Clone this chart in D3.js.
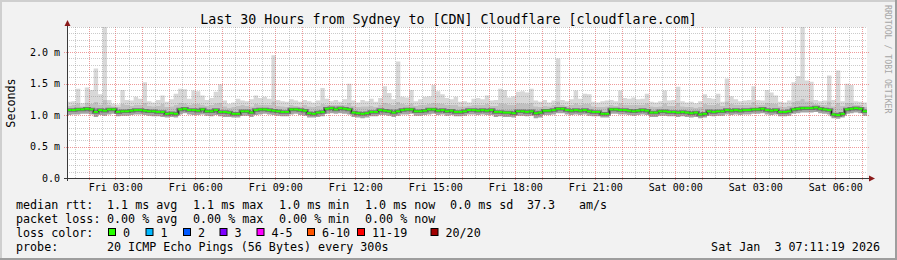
<!DOCTYPE html>
<html>
<head>
<meta charset="utf-8">
<script src="https://cdn.jsdelivr.net/npm/d3@7"></script>
<style>
  html, body { margin: 0; padding: 0; background: #f2f2f2; }
  svg { display: block; }
  text { font-family: "DejaVu Sans Mono", monospace; white-space: pre; }
</style>
</head>
<body>
<svg id="chart" width="897" height="260"></svg>
<script>
var title = "Last 30 Hours from Sydney to [CDN] Cloudflare [cloudflare.com]";
var axisTitle = "Seconds";
var watermark = "RRDTOOL / TOBI OETIKER";
var startTime = Date.UTC(2026, 0, 2, 1, 11, 19);
var endTime = Date.UTC(2026, 0, 3, 7, 11, 19);
var stepMinutes = 10;

// median rtt per 10 minute step (ms)
var medianMs = [
  1.08,1.08,1.09,1.09,1.10,1.09,1.05,1.08,1.07,1.09,
  1.09,1.05,1.06,1.06,1.07,1.08,1.08,1.07,1.06,1.06,
  1.05,1.05,1.02,1.03,1.02,1.09,1.10,1.08,1.08,1.07,
  1.09,1.06,1.06,1.08,1.05,1.05,1.04,1.02,1.02,1.06,
  1.06,1.04,1.08,1.09,1.09,1.08,1.07,1.06,1.05,1.05,
  1.09,1.09,1.08,1.07,1.03,1.02,1.04,1.05,1.10,1.11,
  1.09,1.11,1.10,1.09,1.04,1.03,1.02,1.03,1.05,1.05,
  1.08,1.07,1.06,1.04,1.06,1.08,1.09,1.09,1.06,1.06,
  1.07,1.09,1.09,1.07,1.08,1.06,1.07,1.05,1.05,1.06,
  1.08,1.08,1.07,1.08,1.07,1.08,1.05,1.05,1.04,1.04,
  1.03,1.06,1.06,1.05,1.06,1.03,1.04,1.07,1.07,1.08,
  1.10,1.10,1.08,1.07,1.08,1.07,1.08,1.06,1.05,1.05,
  1.02,1.02,1.09,1.09,1.08,1.08,1.07,1.06,1.07,1.08,
  1.07,1.04,1.04,1.06,1.06,1.05,1.05,1.04,1.05,1.04,
  1.03,1.04,1.01,1.02,1.06,1.05,1.06,1.06,1.08,1.07,
  1.08,1.07,1.08,1.08,1.09,1.09,1.10,1.08,1.07,1.08,
  1.05,1.05,1.06,1.09,1.10,1.11,1.11,1.11,1.12,1.10,
  1.09,1.08,1.01,1.00,1.02,1.09,1.10,1.11,1.10,1.06
];

// fastest ping per step (ms)
var minMs = [
  1.00,1.01,1.01,1.02,1.02,1.01,0.97,1.00,0.99,1.01,
  1.02,0.98,0.99,0.99,1.00,1.01,1.01,1.00,0.99,0.98,
  0.98,0.97,0.96,0.97,0.96,1.01,1.03,1.01,1.00,1.00,
  1.01,0.99,0.98,1.00,0.98,0.97,0.97,0.96,0.96,0.99,
  0.99,0.97,1.00,1.01,1.02,1.01,1.00,0.99,0.98,0.98,
  1.01,1.02,1.00,0.99,0.96,0.96,0.97,0.98,1.02,1.03,
  1.02,1.03,1.02,1.01,0.97,0.96,0.95,0.96,0.98,0.98,
  1.00,1.00,0.99,0.97,0.99,1.01,1.01,1.02,0.99,0.99,
  1.00,1.01,1.02,1.00,1.01,0.99,1.00,0.98,0.98,0.99,
  1.01,1.01,1.00,1.01,1.00,1.00,0.97,0.98,0.97,0.97,
  0.96,0.99,0.99,0.98,0.99,0.95,0.96,1.00,1.00,1.01,
  1.03,1.03,1.01,1.00,1.01,1.00,1.01,0.99,0.98,0.98,
  0.96,0.96,1.02,1.02,1.01,1.01,1.00,0.99,1.00,1.01,
  1.00,0.97,0.97,0.99,0.99,0.98,0.98,0.97,0.98,0.97,
  0.96,0.97,0.95,0.96,0.99,0.98,0.99,0.99,1.01,1.00,
  1.01,1.00,1.01,1.01,1.02,1.02,1.03,1.01,1.00,1.01,
  0.98,0.98,0.99,1.02,1.03,1.04,1.04,1.04,1.05,1.03,
  1.02,1.01,0.95,0.94,0.96,1.02,1.03,1.04,1.03,0.99
];

// upper edge of the dense smoke per step (ms)
var upperMs = [
  1.15,1.16,1.19,1.14,1.20,1.18,1.21,1.17,1.24,1.16,
  1.14,1.13,1.18,1.16,1.15,1.17,1.16,1.20,1.15,1.14,
  1.15,1.18,1.13,1.14,1.16,1.20,1.19,1.16,1.18,1.18,
  1.17,1.15,1.16,1.19,1.20,1.14,1.12,1.13,1.15,1.16,
  1.15,1.14,1.18,1.17,1.17,1.16,1.22,1.15,1.14,1.13,
  1.16,1.15,1.14,1.16,1.14,1.13,1.15,1.18,1.17,1.16,
  1.16,1.17,1.16,1.20,1.15,1.13,1.14,1.14,1.15,1.13,
  1.17,1.20,1.18,1.16,1.21,1.18,1.17,1.19,1.15,1.16,
  1.17,1.18,1.20,1.19,1.18,1.16,1.16,1.17,1.14,1.14,
  1.15,1.16,1.17,1.16,1.18,1.15,1.15,1.19,1.18,1.17,
  1.17,1.19,1.19,1.18,1.20,1.14,1.13,1.15,1.14,1.16,
  1.22,1.16,1.15,1.16,1.19,1.17,1.18,1.18,1.14,1.13,
  1.13,1.14,1.16,1.15,1.19,1.17,1.16,1.17,1.16,1.17,
  1.19,1.14,1.13,1.14,1.19,1.15,1.15,1.20,1.14,1.13,
  1.13,1.12,1.13,1.18,1.16,1.16,1.18,1.15,1.22,1.18,
  1.17,1.16,1.16,1.17,1.21,1.17,1.17,1.20,1.19,1.18,
  1.14,1.13,1.15,1.21,1.23,1.26,1.22,1.22,1.18,1.17,
  1.16,1.22,1.14,1.20,1.15,1.20,1.20,1.17,1.16,1.13
];

// slowest ping per step (ms)
var maxMs = [
  1.21,1.22,1.42,1.19,1.44,1.40,1.74,1.33,2.50,1.24,
  1.18,1.17,1.40,1.24,1.23,1.29,1.26,1.52,1.22,1.20,
  1.24,1.31,1.21,1.25,1.34,1.42,1.41,1.26,1.39,1.38,
  1.31,1.24,1.27,1.37,1.49,1.23,1.18,1.20,1.26,1.23,
  1.22,1.25,1.31,1.27,1.29,1.26,1.95,1.24,1.22,1.21,
  1.25,1.23,1.21,1.24,1.22,1.20,1.23,1.43,1.26,1.22,
  1.24,1.21,1.25,1.50,1.23,1.20,1.24,1.22,1.26,1.21,
  1.27,1.46,1.35,1.25,1.85,1.29,1.28,1.40,1.22,1.25,
  1.29,1.30,1.48,1.38,1.33,1.27,1.25,1.29,1.21,1.22,
  1.20,1.26,1.27,1.25,1.31,1.23,1.24,1.42,1.40,1.28,
  1.30,1.37,1.38,1.36,1.42,1.23,1.21,1.24,1.20,1.23,
  1.90,1.24,1.22,1.25,1.39,1.26,1.34,1.33,1.21,1.20,
  1.22,1.23,1.24,1.22,1.39,1.27,1.26,1.28,1.25,1.26,
  1.34,1.21,1.20,1.22,1.39,1.23,1.24,1.45,1.22,1.20,
  1.21,1.19,1.22,1.33,1.27,1.26,1.34,1.21,1.58,1.30,
  1.25,1.22,1.23,1.24,1.46,1.24,1.23,1.40,1.36,1.31,
  1.21,1.20,1.23,1.52,1.62,2.50,1.55,1.53,1.24,1.22,
  1.23,1.63,1.24,1.71,1.22,1.50,1.48,1.22,1.21,1.20
];

var yTicks = [0, 0.5, 1.0, 1.5, 2.0];
var rttStats = ["1.1 ms avg", "1.1 ms max", "1.0 ms min", "1.0 ms now", "0.0 ms sd", "37.3", "am/s"];
var lossStats = ["0.00 % avg", "0.00 % max", "0.00 % min", "0.00 % now"];
var lossLabels = ["0", "1", "2", "3", "4-5", "6-10", "11-19", "20/20"];
var lossColors = ["#26ff00", "#00b8ff", "#0059ff", "#7e00ff", "#ff00ff", "#ff5500", "#ff0000", "#a10000"];
var probeText = "20 ICMP Echo Pings (56 Bytes) every 300s";
var stampText = "Sat Jan  3 07:11:19 2026";

// layout
var W = 897, H = 260;
var plot = {left: 67, right: 867, top: 27, bottom: 178};
var statX = [107, 193, 279, 365, 450, 527, 579];
var lossBoxX = [108, 145.5, 183, 219.5, 256.5, 307, 357, 430.5];
var rowY = [209, 223, 237, 251];

var svg = d3.select("#chart");

svg.append("rect").attr("width", W).attr("height", H).attr("fill", "#f2f2f2");
// frame shading
svg.append("path").attr("d", "M0,1H" + W + "M1,0V" + H).attr("stroke", "#cfcfcf").attr("stroke-width", 2);
svg.append("path").attr("d", "M0," + (H - 1) + "H" + W + "M" + (W - 1) + ",0V" + H).attr("stroke", "#9e9e9e").attr("stroke-width", 2);

svg.append("rect")
  .attr("x", plot.left).attr("y", plot.top)
  .attr("width", plot.right - plot.left).attr("height", plot.bottom - plot.top)
  .attr("fill", "#ffffff");

var x = d3.scaleTime()
  .domain([new Date(startTime), new Date(endTime)])
  .range([plot.left, plot.right]);
var y = d3.scaleLinear()
  .domain([0, 2.4])
  .range([plot.bottom, plot.top]);

function px(v) { return Math.round(v) + 0.5; }

// samples
var stepMs = stepMinutes * 60000;
var samples = medianMs.map(function(m, i) {
  return {t: new Date(startTime + i * stepMs), med: m, lo: minMs[i], up: upperMs[i], hi: maxMs[i]};
});
var last = samples[samples.length - 1];
var stepped = samples.concat([{t: new Date(startTime + samples.length * stepMs), med: last.med, lo: last.lo, up: last.up, hi: last.hi}]);

svg.append("clipPath").attr("id", "clip")
  .append("rect")
  .attr("x", plot.left).attr("y", plot.top)
  .attr("width", plot.right - plot.left).attr("height", plot.bottom - plot.top);

var smoke = svg.append("g").attr("clip-path", "url(#clip)");

function band(lower, upper, fill) {
  smoke.append("path")
    .datum(stepped)
    .attr("fill", fill)
    .attr("d", d3.area().curve(d3.curveStepAfter)
      .x(function(d) { return x(d.t); })
      .y0(function(d) { return y(d[lower]); })
      .y1(function(d) { return y(d[upper]); }));
}
band("up", "hi", "#d8d8d8");
band("med", "up", "#c0c0c0");
band("lo", "med", "#a4a4a4");

// grid drawn over the smoke, like rrdtool
var grid = svg.append("g");
var timeGrid = x.ticks(d3.utcMinute.every(30));
timeGrid.forEach(function(t) {
  var major = t.getUTCMinutes() === 0;
  grid.append("line")
    .attr("x1", px(x(t))).attr("x2", px(x(t)))
    .attr("y1", plot.top).attr("y2", plot.bottom + (major ? 3 : 0))
    .attr("stroke", major ? "rgba(225,70,70,0.55)" : "rgba(140,140,140,0.45)")
    .attr("stroke-dasharray", "1,1");
});
y.ticks(24).forEach(function(v) {
  if (v === 0) return;
  var major = Math.abs(v * 2 - Math.round(v * 2)) < 1e-6;
  grid.append("line")
    .attr("x1", plot.left - (major ? 3 : 0)).attr("x2", plot.right + (major ? 2 : 0))
    .attr("y1", px(y(v))).attr("y2", px(y(v)))
    .attr("stroke", major ? "rgba(225,70,70,0.55)" : "rgba(140,140,140,0.45)")
    .attr("stroke-dasharray", "1,1");
});

var medLine = d3.line().curve(d3.curveStepAfter)
  .x(function(d) { return x(d.t); })
  .y(function(d) { return y(d.med); });

var core = svg.append("g").attr("clip-path", "url(#clip)");
core.append("path")
  .datum(stepped)
  .attr("fill", "none")
  .attr("stroke", "#555")
  .attr("stroke-opacity", 0.7)
  .attr("stroke-width", 3.5)
  .attr("d", medLine);
core.append("path")
  .datum(stepped)
  .attr("fill", "none")
  .attr("stroke", "#1a1a1a")
  .attr("stroke-width", 1)
  .attr("d", medLine);

core.selectAll("line.med")
  .data(samples)
  .enter()
  .append("line")
  .attr("class", "med")
  .attr("x1", function(d) { return x(d.t); })
  .attr("x2", function(d) { return x(new Date(+d.t + stepMs)); })
  .attr("y1", function(d) { return y(d.med); })
  .attr("y2", function(d) { return y(d.med); })
  .attr("stroke", lossColors[0])
  .attr("stroke-width", 2);

// axes
var xAxis = svg.append("g")
  .attr("transform", "translate(0," + plot.bottom + ")")
  .call(d3.axisBottom(x)
    .ticks(d3.utcHour.every(3))
    .tickFormat(d3.utcFormat("%a %H:%M"))
    .tickSize(0)
    .tickPadding(6));
xAxis.select(".domain").remove();
xAxis.selectAll("text").attr("font-size", "10px").attr("font-family", "DejaVu Sans Mono").attr("fill", "#000");

var yAxis = svg.append("g")
  .attr("transform", "translate(" + plot.left + ",0)")
  .call(d3.axisLeft(y)
    .tickValues(yTicks)
    .tickFormat(function(d) { return d === 0 ? "0.0" : d.toFixed(1) + " m"; })
    .tickSize(0)
    .tickPadding(7));
yAxis.select(".domain").remove();
yAxis.selectAll("text").attr("font-size", "10px").attr("font-family", "DejaVu Sans Mono").attr("fill", "#000");

svg.append("line")
  .attr("x1", plot.left - 3).attr("x2", plot.right + 3)
  .attr("y1", plot.bottom + 0.5).attr("y2", plot.bottom + 0.5)
  .attr("stroke", "#3a3a3a");
svg.append("line")
  .attr("x1", plot.left + 0.5).attr("x2", plot.left + 0.5)
  .attr("y1", plot.bottom + 3).attr("y2", plot.top - 2)
  .attr("stroke", "#3a3a3a");
svg.append("path")
  .attr("d", "M" + (plot.left - 2.5) + "," + (plot.top - 1) + "L" + (plot.left + 3.5) + "," + (plot.top - 1) + "L" + (plot.left + 0.5) + "," + (plot.top - 7) + "Z")
  .attr("fill", "#8b1a1a");
svg.append("path")
  .attr("d", "M" + (plot.right + 2) + "," + (plot.bottom - 2.5) + "L" + (plot.right + 2) + "," + (plot.bottom + 3.5) + "L" + (plot.right + 8) + "," + (plot.bottom + 0.5) + "Z")
  .attr("fill", "#8b1a1a");

// titles
svg.append("text")
  .attr("x", W / 2).attr("y", 24)
  .attr("text-anchor", "middle")
  .attr("font-size", "13.3px")
  .text(title);

svg.append("text")
  .attr("transform", "translate(15,103) rotate(-90)")
  .attr("text-anchor", "middle")
  .attr("font-size", "11.7px")
  .text(axisTitle);

svg.append("text")
  .attr("transform", "translate(885,5) rotate(90)")
  .attr("font-size", "8.2px")
  .attr("fill", "#a6a6a6")
  .text(watermark);

// legend
var legend = svg.append("g").attr("font-size", "11.7px").attr("fill", "#000");

function legendText(xPos, yPos, str) {
  legend.append("text").attr("x", xPos).attr("y", yPos).text(str);
}

legendText(16, rowY[0], "median rtt:");
rttStats.forEach(function(s, i) { legendText(statX[i], rowY[0], s); });
legendText(16, rowY[1], "packet loss:");
lossStats.forEach(function(s, i) { legendText(statX[i], rowY[1], s); });
legendText(16, rowY[2], "loss color:");
lossLabels.forEach(function(s, i) {
  legend.append("rect")
    .attr("x", lossBoxX[i] + 0.5).attr("y", rowY[2] - 8.5)
    .attr("width", 7).attr("height", 7)
    .attr("fill", lossColors[i])
    .attr("stroke", "#000");
  legendText(lossBoxX[i] + 15, rowY[2], s);
});
legendText(16, rowY[3], "probe:");
legendText(statX[0], rowY[3], probeText);
legend.append("text")
  .attr("x", 880).attr("y", rowY[3])
  .attr("text-anchor", "end")
  .text(stampText);
</script>
</body>
</html>
